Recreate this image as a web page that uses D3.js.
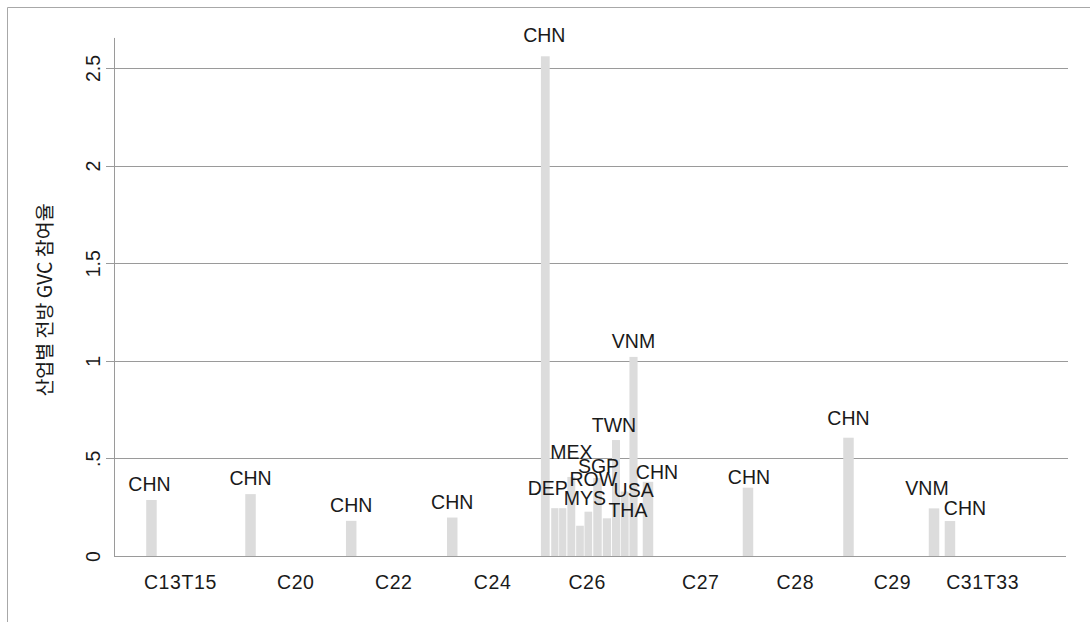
<!DOCTYPE html>
<html>
<head>
<meta charset="utf-8">
<script src="https://cdn.jsdelivr.net/npm/d3@7"></script>
<style>
  html, body { margin: 0; padding: 0; background: #fff; }
  svg { display: block; }
  text { font-family: "Liberation Sans", Arial, sans-serif; fill: #1a1a1a; }
</style>
</head>
<body>
<svg id="chart" width="1090" height="622"></svg>
<script>
// ---------------- data ----------------
const industries   = ["C13T15", "C20", "C22", "C24", "C26", "C27", "C28", "C29", "C31T33"];
const industryPos  = [7.6, 20.9, 32.2, 43.6, 54.5, 67.6, 78.5, 89.7, 100.1];

const barCountry = ["CHN", "CHN", "CHN", "CHN", "CHN", "DEP", "", "MEX", "MYS", "ROW",
                    "SGP", "THA", "TWN", "USA", "VNM", "CHN", "CHN", "CHN", "VNM", "CHN"];
const barPos     = [4.32, 15.74, 27.35, 39.0, 49.73, 50.83, 51.74, 52.73, 53.73, 54.69,
                    55.75, 56.84, 57.88, 58.88, 59.9, 61.57, 73.1, 84.69, 94.55, 96.39];
const barValue   = [0.287, 0.317, 0.18, 0.197, 2.56, 0.245, 0.245, 0.405, 0.155, 0.227,
                    0.40, 0.193, 0.594, 0.33, 1.02, 0.38, 0.35, 0.606, 0.244, 0.179];

const yTicks      = [0, 0.5, 1, 1.5, 2, 2.5];
const yTickLabels = ["0", ".5", "1", "1.5", "2", "2.5"];
const yTitle = "산업별 전방 GVC 참여율";

// ---------------- layout / style ----------------
const plotLeft = 114, plotRight = 1068, plotBottom = 556;
const xDomain = [0, 110];
const yMaxShown = 2.654;
const barColor = "#dcdcdc";
const gridColor = "#9a9a9a";
const fontSize = 19.5;
const maxBarW = 10.5;

// label nudges (dx, dy in px) to mimic the placement in the original
const labelNudge = {
  0: [-2, 0], 4: [-1, -5], 5: [-7, -4], 7: [0, -9], 8: [5, -12], 9: [5, -17],
  10: [1, 4], 11: [21, 8], 12: [-2, 1], 13: [9, 14], 15: [9, 6], 16: [1, 5],
  17: [0, -4], 18: [-7, -4], 19: [15, 3]
};

const svg = d3.select("#chart");
svg.append("rect").attr("width", 1090).attr("height", 622).attr("fill", "#fff");

// outer frame (left and top edges visible)
svg.append("path")
  .attr("d", "M7.5,622 L7.5,7.5 L1090,7.5")
  .attr("fill", "none").attr("stroke", "#a8a8a8").attr("stroke-width", 1);

const x = d3.scaleLinear().domain(xDomain).range([plotLeft, plotRight]);
const y = d3.scaleLinear().domain([0, 2.5]).range([plotBottom, 68]);

// gridlines
svg.append("g").selectAll("line").data(yTicks.filter(v => v > 0)).join("line")
  .attr("x1", plotLeft - 8).attr("x2", plotRight)
  .attr("y1", d => Math.round(y(d)) + 0.5).attr("y2", d => Math.round(y(d)) + 0.5)
  .attr("stroke", gridColor).attr("stroke-width", 1);

// baseline
svg.append("line")
  .attr("x1", plotLeft).attr("x2", plotRight - 2)
  .attr("y1", Math.round(y(0)) + 0.5).attr("y2", Math.round(y(0)) + 0.5)
  .attr("stroke", gridColor).attr("stroke-width", 1);

// y axis
const yAxis = d3.axisLeft(y).tickValues(yTicks)
  .tickFormat((d, i) => yTickLabels[i]).tickSize(0).tickPadding(0);
const ya = svg.append("g").attr("transform", `translate(${plotLeft + 0.5},0)`).call(yAxis);
ya.select(".domain").attr("stroke", gridColor)
  .attr("d", `M0,${y(yMaxShown)}V${y(0) + 0.5}`);
ya.selectAll(".tick text")
  .attr("x", null).attr("dy", null)
  .attr("text-anchor", "middle")
  .attr("transform", "translate(-15,0) rotate(-90)")
  .style("font-size", fontSize + "px")
  .style("font-family", "'Liberation Sans', Arial, sans-serif")
  .attr("fill", "#1a1a1a");

// y title
svg.append("text")
  .attr("transform", `translate(52,${300}) rotate(-90)`)
  .attr("text-anchor", "middle")
  .style("font-family", "'Noto Sans CJK KR', sans-serif")
  .style("font-size", "19.5px")
  .text(yTitle);

// bar widths limited by neighbour spacing
const pxPos = barPos.map(p => x(p));
const barW = pxPos.map((p, i) => {
  let minGap = Infinity;
  pxPos.forEach((q, j) => { if (j !== i) minGap = Math.min(minGap, Math.abs(q - p)); });
  return Math.min(maxBarW, minGap * 0.92);
});

const bars = barPos.map((p, i) => ({ pos: p, value: barValue[i], country: barCountry[i], w: barW[i], i }));

svg.append("g").selectAll("rect").data(bars).join("rect")
  .attr("x", d => x(d.pos) - d.w / 2)
  .attr("width", d => d.w)
  .attr("y", d => y(d.value))
  .attr("height", d => y(0) - y(d.value))
  .attr("fill", barColor);

// bar labels
svg.append("g").selectAll("text").data(bars.filter(d => d.country)).join("text")
  .attr("x", d => x(d.pos) + (labelNudge[d.i] ? labelNudge[d.i][0] : 0))
  .attr("y", d => y(d.value) - 16 + (labelNudge[d.i] ? labelNudge[d.i][1] : 0))
  .attr("dy", "0.36em")
  .attr("text-anchor", "middle")
  .style("font-size", fontSize + "px")
  .text(d => d.country);

// x category labels
const xAxis = d3.axisBottom(x).tickValues(industryPos)
  .tickFormat((d, i) => industries[i]).tickSize(0).tickPadding(0);
const xa = svg.append("g").attr("transform", `translate(0,${plotBottom})`).call(xAxis);
xa.select(".domain").remove();
xa.selectAll(".tick text")
  .attr("y", 26).attr("dy", "0.36em")
  .style("font-size", fontSize + "px")
  .style("letter-spacing", "0.6px")
  .style("font-family", "'Liberation Sans', Arial, sans-serif")
  .attr("fill", "#1a1a1a");
</script>
</body>
</html>
